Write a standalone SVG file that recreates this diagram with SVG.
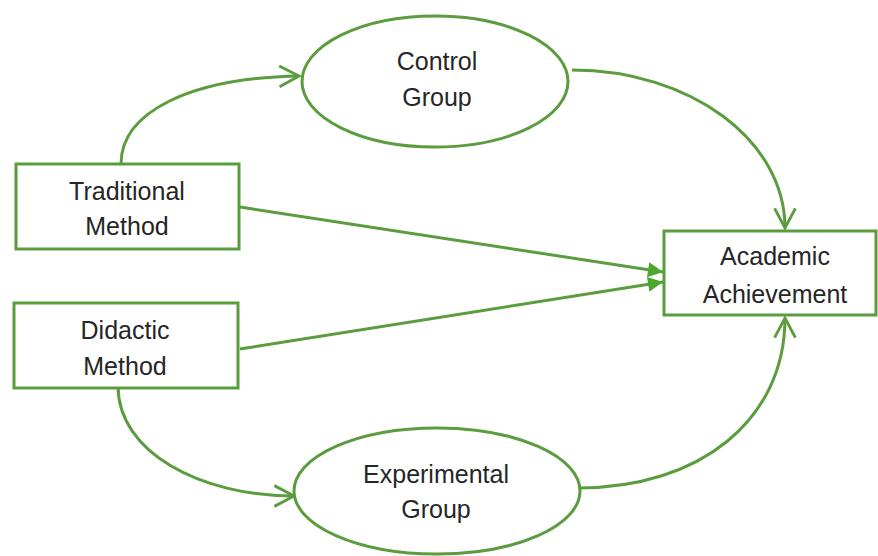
<svg xmlns="http://www.w3.org/2000/svg" width="878" height="556" viewBox="0 0 878 556">
<style>
.node{fill:#ffffff;stroke:#5a9c3e;stroke-width:3}
.edge{fill:none;stroke:#5a9c3e;stroke-width:3}
.lbl{font-family:"Liberation Sans",Arial,sans-serif;font-size:25px;fill:#262626;text-anchor:middle}
</style>
<defs>
<marker id="open" markerUnits="userSpaceOnUse" markerWidth="30" markerHeight="30" refX="0" refY="0" viewBox="-22 -12 26 24" orient="auto" overflow="visible">
<path d="M-17,-9 L0,0 L-17,9" fill="none" stroke="#5a9c3e" stroke-width="2.5"/>
</marker>
<marker id="solid" markerUnits="userSpaceOnUse" markerWidth="20" markerHeight="20" refX="0" refY="0" viewBox="-14 -8 16 16" orient="auto" overflow="visible">
<path d="M-12,-6 L0,0 L-12,6 Z" fill="#4aa82e" stroke="none"/>
</marker>
</defs>
<rect width="878" height="556" fill="#ffffff"/>
<g id="connectors">
<path class="edge" d="M121,164 C121,112 190,78 299,76" marker-end="url(#open)"/>
<path class="edge" d="M572,70 C690,70 785,140 785,228" marker-end="url(#open)"/>
<path class="edge" d="M118,386 C118,452 200,496 294,496" marker-end="url(#open)"/>
<path class="edge" d="M578,488 C700,488 785,420 785,318" marker-end="url(#open)"/>
<path class="edge" d="M240,207 L663,272" marker-end="url(#solid)"/>
<path class="edge" d="M240,349 L663,282" marker-end="url(#solid)"/>
</g>
<g id="traditional">
<rect class="node" x="16" y="164" width="223" height="85"/>
<text class="lbl" x="127" y="200">Traditional</text>
<text class="lbl" x="127" y="235">Method</text>
</g>
<g id="didactic">
<rect class="node" x="14" y="303" width="224" height="85"/>
<text class="lbl" x="125" y="339">Didactic</text>
<text class="lbl" x="125" y="375">Method</text>
</g>
<g id="control">
<ellipse class="node" cx="435" cy="81.5" rx="133" ry="65.5"/>
<text class="lbl" x="437" y="70">Control</text>
<text class="lbl" x="437" y="106">Group</text>
</g>
<g id="experimental">
<ellipse class="node" cx="437" cy="491" rx="143" ry="63"/>
<text class="lbl" x="436" y="483">Experimental</text>
<text class="lbl" x="436" y="518">Group</text>
</g>
<g id="academic">
<rect class="node" x="664" y="231" width="212" height="84"/>
<text class="lbl" x="775" y="265">Academic</text>
<text class="lbl" x="775" y="303">Achievement</text>
</g>
</svg>
